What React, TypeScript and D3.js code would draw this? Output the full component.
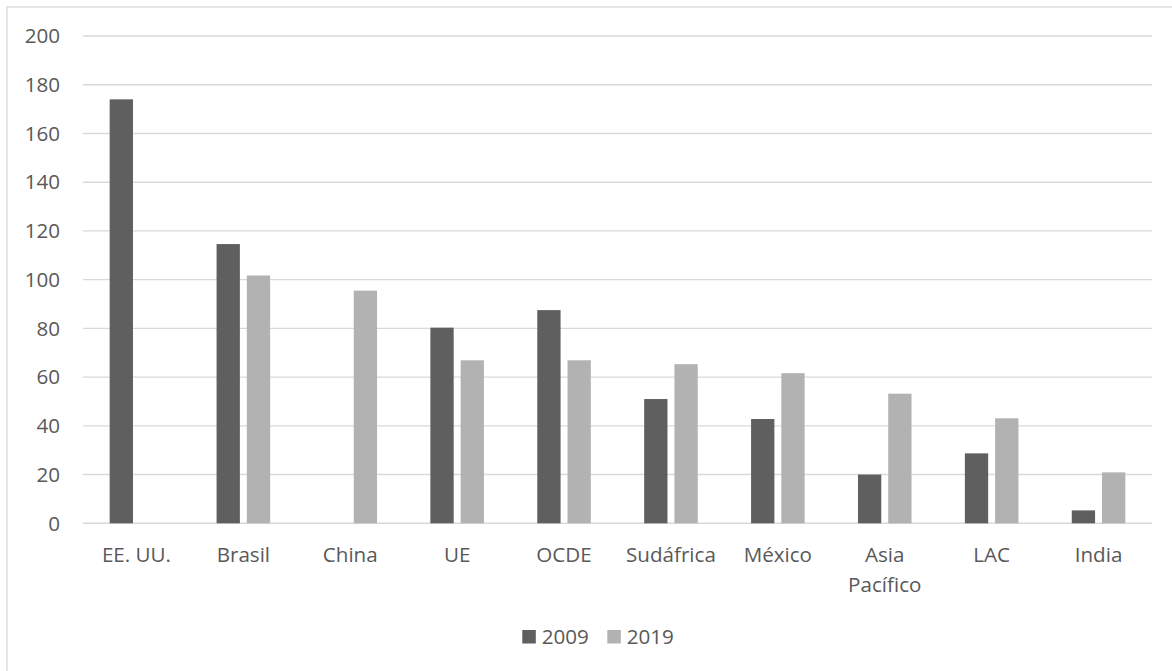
import React from "react";
import * as d3 from "d3";

const categories = ["EE. UU.", "Brasil", "China", "UE", "OCDE", "Sudáfrica", "México", "Asia\nPacífico", "LAC", "India"];
const series2009: (number | null)[] = [174, 114.6, null, 80.3, 87.5, 51, 42.8, 20, 28.7, 5.3];
const series2019: (number | null)[] = [null, 101.7, 95.5, 66.9, 66.9, 65.3, 61.6, 53.2, 43.1, 20.9];
const yTicks = [0, 20, 40, 60, 80, 100, 120, 140, 160, 180, 200];
const seriesNames = ["2009", "2019"];

const W = 1172;
const H = 671;
const colors = ["#5f5f5f", "#b2b2b2"];
const textColor = "#595959";
const font = "'Open Sans', sans-serif";
const fs = 20.6;

export default function App() {
  const left = 83, right = 1152, top = 36, bottom = 523.3;
  const x = d3.scaleBand<string>().domain(categories).range([left, right]).padding(0);
  const y = d3.scaleLinear().domain([0, 200]).range([bottom, top]);
  const step = x.step();
  const bw = step * 0.218;
  const gap = step * 0.065;
  const all = [series2009, series2019];

  return (
    <svg width={W} height={H} style={{ position: "absolute", left: 0, top: 0, background: "#fff" }}>
      <rect x={0} y={0} width={W} height={H} fill="#fff" />
      <rect x={7} y={7} width={W + 20} height={H + 20} fill="none" stroke="#d9d9d9" strokeWidth={1.3} />
      {yTicks.map((t) => (
        <g key={t}>
          <line x1={left} x2={right} y1={y(t)} y2={y(t)} stroke="#d9d9d9" strokeWidth={1.4} />
          <text x={60} y={y(t)} dy="0.35em" textAnchor="end" fontFamily={font} fontSize={fs} fill={textColor}>
            {t}
          </text>
        </g>
      ))}
      {all.map((s, si) =>
        s.map((v, i) => {
          if (v == null) return null;
          const c = (x(categories[i]) as number) + step / 2;
          const bx = si === 0 ? c - gap / 2 - bw : c + gap / 2;
          return <rect key={`${si}-${i}`} x={bx} y={y(v)} width={bw} height={y(0) - y(v)} fill={colors[si]} />;
        })
      )}
      {categories.map((c) => {
        const cx = (x(c) as number) + step / 2;
        const lines = c.split("\n");
        return (
          <text key={c} x={cx} y={562} textAnchor="middle" fontFamily={font} fontSize={fs} fill={textColor}>
            {lines.map((l, j) => (
              <tspan key={j} x={cx} dy={j === 0 ? 0 : 30}>
                {l}
              </tspan>
            ))}
          </text>
        );
      })}
      {seriesNames.map((n, i) => {
        const lx = i === 0 ? 522.3 : 607.3;
        return (
          <g key={n}>
            <rect x={lx} y={630} width={13.5} height={13.5} fill={colors[i]} />
            <text x={lx + 19.5} y={644} fontFamily={font} fontSize={fs} fill={textColor}>
              {n}
            </text>
          </g>
        );
      })}
    </svg>
  );
}
